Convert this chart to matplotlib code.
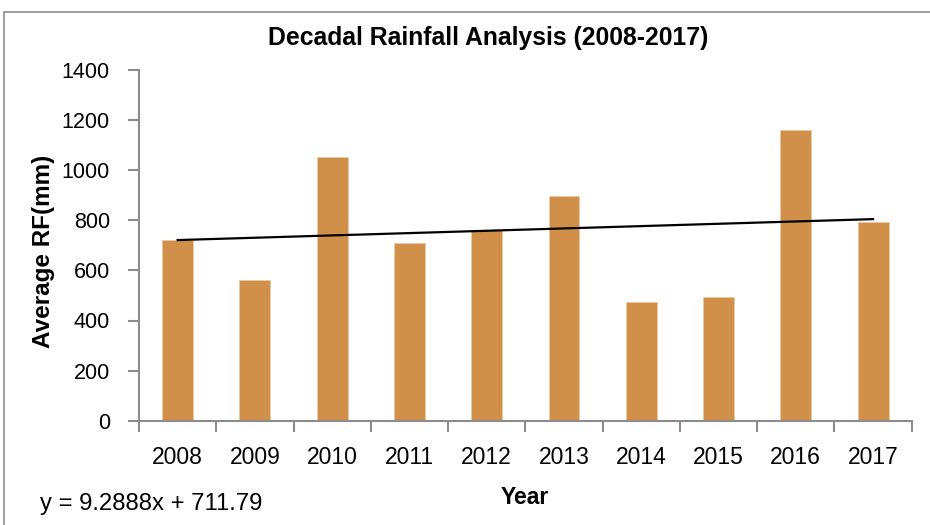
import matplotlib
matplotlib.use("Agg")
import matplotlib.pyplot as plt
from matplotlib.patches import Rectangle
import numpy as np

years = ["2008", "2009", "2010", "2011", "2012", "2013", "2014", "2015", "2016", "2017"]
rainfall = [721, 562, 1052, 709, 761, 897, 475, 495, 1162, 794]
yticks = [0, 200, 400, 600, 800, 1000, 1200, 1400]

# linear trend fitted on x = 1..10
slope = 9.2888
intercept = 711.79

font = ["Liberation Sans", "DejaVu Sans"]

fig = plt.figure(figsize=(9.3, 5.25), dpi=100)
fig.patch.set_facecolor("white")

# chart-area border
fig.add_artist(Rectangle((4 / 930, -0.2), 1.2, (525 - 12) / 525 + 0.2,
                         transform=fig.transFigure, fill=False,
                         edgecolor="#8c8c8c", linewidth=1.2))

ax = fig.add_axes([139 / 930, 1 - 420.7 / 525, (911.7 - 139) / 930, (420.7 - 70) / 525])

x = np.arange(len(years))
ax.bar(x, rainfall, width=0.4, color="#D0904A", edgecolor="#EBC9A3", linewidth=0.6, zorder=2)

xt = np.arange(1, len(years) + 1)
ax.plot(x, slope * xt + intercept, color="black", linewidth=1.6, zorder=3)

ax.set_xlim(-0.5, len(years) - 0.5)
ax.set_ylim(0, 1400)
ax.set_yticks(yticks)
ax.set_yticklabels([str(v) for v in yticks], family=font, fontsize=15.5)

ax.set_xticks(x)
ax.set_xticklabels(years, family=font, fontsize=16.5)
ax.set_xticks(np.arange(-0.5, len(years)), minor=True)
ax.tick_params(axis="x", which="major", length=0, pad=18)
ax.tick_params(axis="x", which="minor", length=8, width=1.5, color="#8c8c8c", direction="out")
ax.tick_params(axis="y", length=8, width=1.5, color="#8c8c8c", direction="out", pad=13)

for side in ("top", "right"):
    ax.spines[side].set_visible(False)
for side in ("left", "bottom"):
    ax.spines[side].set_color("#8c8c8c")
    ax.spines[side].set_linewidth(1.5)

ax.set_ylabel("Average RF(mm)", family=font, fontsize=17.5, fontweight="bold")
ax.yaxis.set_label_coords(-(139 - 44) / (911.7 - 139), (420.7 - 251) / (420.7 - 70))
ax.set_xlabel("Year", family=font, fontsize=16.5, fontweight="bold")
ax.xaxis.set_label_coords((525 - 139) / (911.7 - 139), -(497 - 420.7) / (420.7 - 70))
ax.xaxis.label.set_va("center")
ax.yaxis.label.set_va("center")

fig.text(488 / 930, 1 - 38 / 525, "Decadal Rainfall Analysis (2008-2017)",
         family=font, fontsize=17.8, fontweight="bold", ha="center", va="center")
fig.text(40 / 930, 1 - 504 / 525, "y = 9.2888x + 711.79",
         family=font, fontsize=17.2, ha="left", va="center")

fig.savefig("out.png", dpi=100, facecolor="white")
